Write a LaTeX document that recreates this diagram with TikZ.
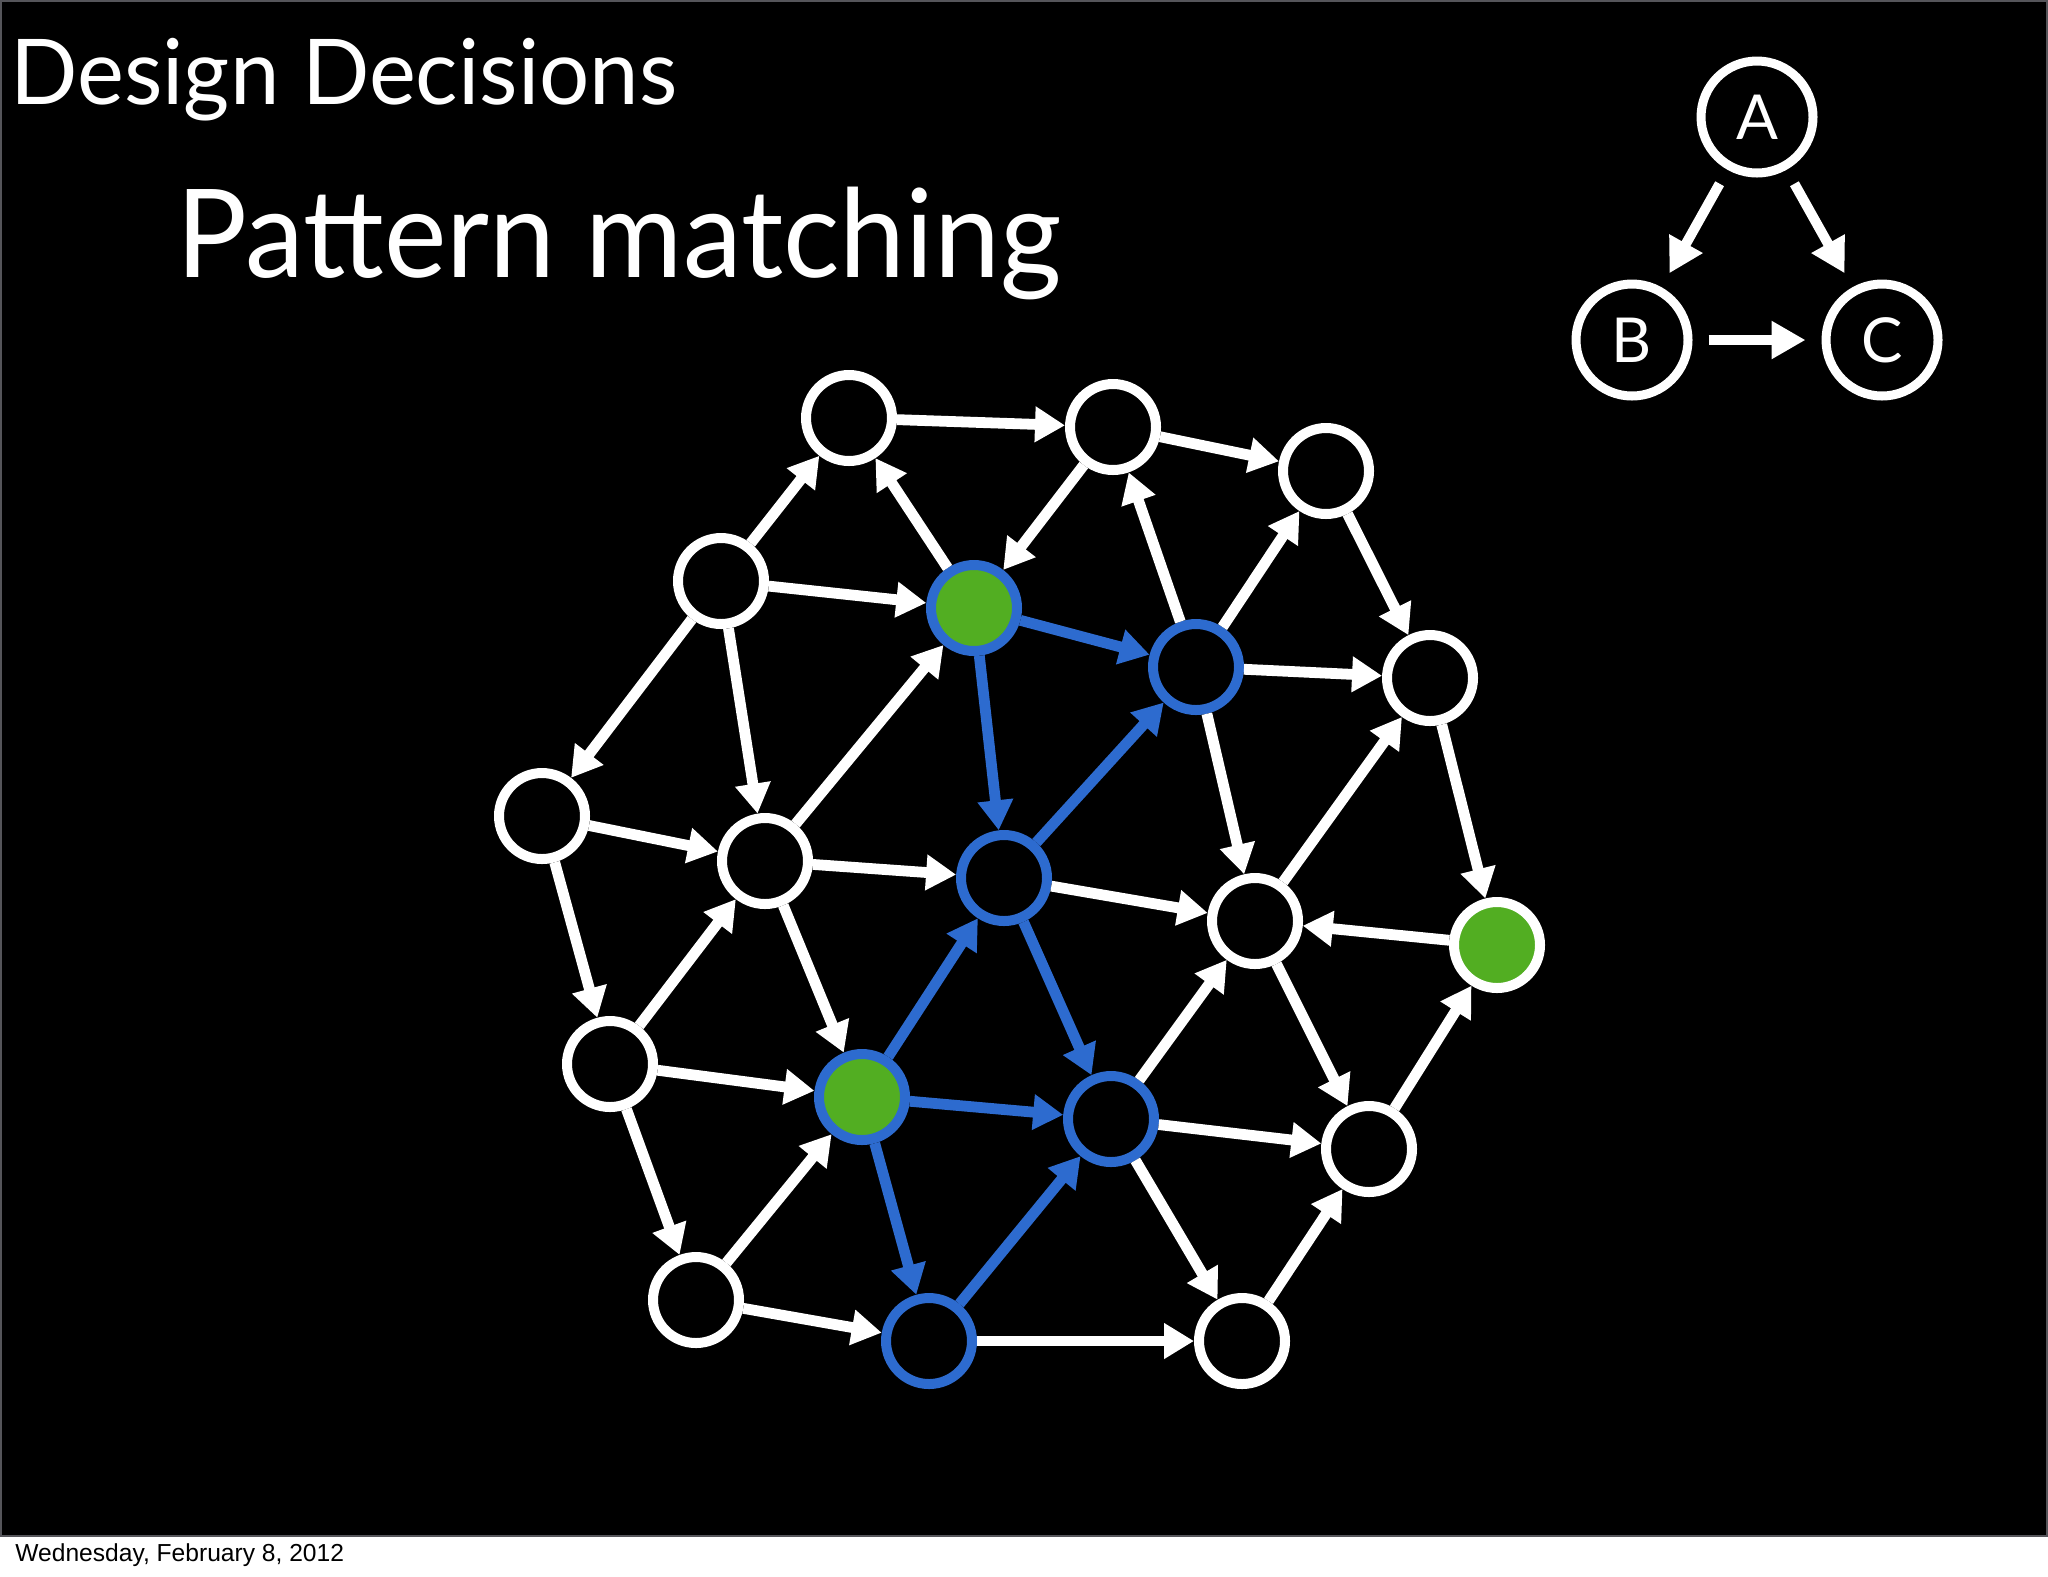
\documentclass[tikz,border=0pt]{standalone}
\usepackage{fontspec}
\setmainfont{Lato}
\newfontfamily\footfont{Liberation Sans}
\usetikzlibrary{arrows.meta}
\definecolor{kblue}{RGB}{45,107,207}
\definecolor{kgreen}{RGB}{82,174,34}
\definecolor{kgray}{RGB}{85,85,90}
\tikzset{
  vert/.style={circle,draw=white,line width=5pt,fill=black,minimum size=43pt,inner sep=0pt},
  bvert/.style={vert,draw=kblue},
  gbvert/.style={vert,draw=kblue,fill=kgreen},
  gwvert/.style={vert,fill=kgreen},
  wedge/.style={draw=white,line width=5.4pt,-{Triangle[length=15pt,width=17pt]}},
  bedge/.style={draw=kblue,line width=5.4pt,-{Triangle[length=15pt,width=17pt]}},
  letter/.style={circle,draw=white,line width=4.5pt,minimum size=56pt,inner sep=0pt,text=white,font=\fontsize{31}{31}\selectfont},
  ledge/.style={draw=white,line width=5pt,-{Triangle[length=17pt,width=18pt]},shorten <=8pt,shorten >=8pt}
}
\begin{document}
\begin{tikzpicture}[x=0.5pt,y=-0.5pt]
\useasboundingbox (0,0) rectangle (2048,1576);
\fill[white] (0,0) rectangle (2048,1576);
\filldraw[fill=black,draw=kgray,line width=1.2pt] (0.5,0.5) rectangle (2047,1536);
% titles
\node[anchor=base west,inner sep=0pt,text=white,font=\fontsize{45.4}{50}\selectfont] (t1) at (10,104) {\scalebox{0.977}[1]{Design Decisions}};
\node[anchor=base west,inner sep=0pt,text=white,font=\fontsize{61.4}{66}\selectfont] (t2) at (176,277) {\scalebox{0.963}[1]{Pattern matching}};
\node[anchor=base west,inner sep=0pt,text=black,font=\footfont\fontsize{12.3}{14}\selectfont] (ft) at (15,1561) {Wednesday, February 8, 2012};
% ABC
\node[letter] (A) at (1757,117) {A};
\node[letter] (B) at (1632,340) {B};
\node[letter] (C) at (1882,340) {C};
\draw[ledge] (A) -- (B);
\draw[ledge] (A) -- (C);
\draw[ledge] (B) -- (C);
% graph nodes
\node[vert] (n1) at (849,418) {};
\node[vert] (n2) at (1113,427) {};
\node[vert] (n3) at (1326,471) {};
\node[vert] (n4) at (721,581) {};
\node[gbvert] (n5) at (974,608) {};
\node[bvert] (n6) at (1196,667) {};
\node[vert] (n7) at (1430,678) {};
\node[vert] (n8) at (542,816) {};
\node[vert] (n9) at (765,861) {};
\node[bvert] (n10) at (1004,878) {};
\node[vert] (n11) at (1255,921) {};
\node[gwvert] (n12) at (1497,945) {};
\node[vert] (n13) at (610,1064) {};
\node[gbvert] (n14) at (862,1097) {};
\node[bvert] (n15) at (1111,1119) {};
\node[vert] (n16) at (1369,1149) {};
\node[vert] (n17) at (696,1300) {};
\node[bvert] (n18) at (929,1341) {};
\node[vert] (n19) at (1242,1341) {};
% white edges
\foreach \a/\b in {n1/n2, n2/n3, n4/n1, n5/n1, n2/n5, n4/n5, n6/n2, n6/n3, n3/n7, n6/n7, n4/n8, n4/n9, n9/n5, n6/n11, n8/n9, n9/n10, n11/n7, n10/n11, n7/n12, n12/n11, n8/n13, n13/n9, n9/n14, n15/n11, n11/n16, n16/n12, n13/n14, n15/n16, n13/n17, n17/n14, n15/n19, n19/n16, n17/n18, n18/n19}
  \draw[wedge] (\a) -- (\b);
% blue edges
\foreach \a/\b in {n5/n6, n5/n10, n10/n6, n14/n10, n10/n15, n14/n15, n14/n18, n18/n15}
  \draw[bedge] (\a) -- (\b);
\end{tikzpicture}
\end{document}
